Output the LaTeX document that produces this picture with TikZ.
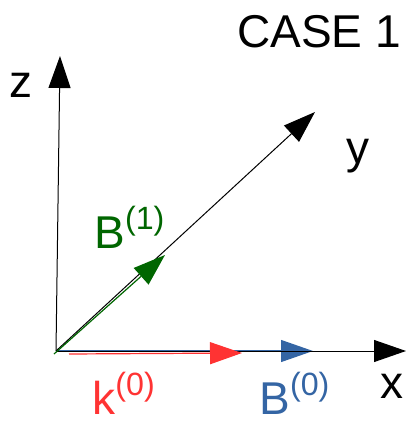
\documentclass[tikz,border=0pt]{standalone}
\usepackage{fontspec}
\setmainfont{Liberation Sans}
\usetikzlibrary{arrows.meta}
\definecolor{bgreen}{RGB}{0,102,0}
\definecolor{kred}{RGB}{255,51,51}
\definecolor{bblue}{RGB}{52,101,164}
\begin{document}
\begin{tikzpicture}[
    x=0.5pt, y=-0.5pt,
    every node/.style={font=\fontsize{23}{27}\selectfont, inner sep=0pt, anchor=base west},
    axisline/.style={line width=0.5pt, -{Triangle[length=16pt, width=11pt]}},
    vecline/.style={line width=0.6pt, -{Triangle[length=16pt, width=11pt]}}
]
  \useasboundingbox (0,0) rectangle (410,424);

  % title
  \node (case) at (237,47) {CASE 1};

  % axes
  \coordinate (o) at (56,351);
  \coordinate (xtip) at (406,351);
  \coordinate (ytip) at (315,112);
  \coordinate (ztip) at (60,56);
  \draw[bblue, vecline] (o) -- (313,351) coordinate (btip);
  \draw[axisline] (o) -- (xtip);
  \draw[axisline] (o) -- (ztip);
  \draw[axisline] (o) -- (ytip);
  \node (xlab) at (380,398) {x};
  \node (ylab) at (346,163) {y};
  \node (zlab) at (9,97) {z};

  % vectors
  \coordinate (gstart) at (54,354);
  \coordinate (gtip) at (165,255);
  \draw[bgreen, vecline] (gstart) -- (gtip);
  \coordinate (kstart) at (69,354);
  \coordinate (ktip) at (242,353);
  \draw[kred, vecline] (kstart) -- (ktip);

  % labels
  \node[bgreen] (b1) at (94,248) {B\textsuperscript{(1)}};
  \node[kred]   (k0) at (92,414) {k\textsuperscript{(0)}};
  \node[bblue]  (b0) at (259,414) {B\textsuperscript{(0)}};
\end{tikzpicture}
\end{document}
